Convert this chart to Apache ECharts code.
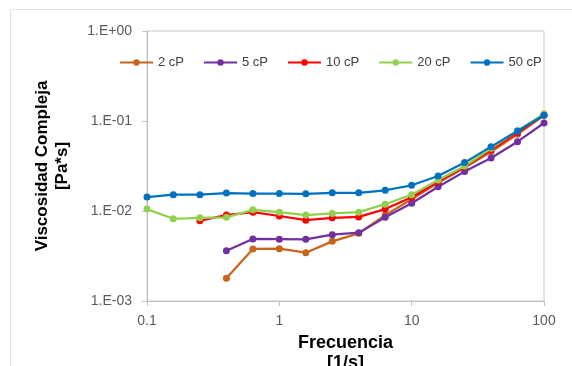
<!DOCTYPE html>
<html>
<head>
<meta charset="utf-8">
<script src="https://cdn.jsdelivr.net/npm/echarts@6/dist/echarts.min.js"></script>
<style>html,body{margin:0;padding:0;background:#fff;}#c{width:572px;height:366px;}</style>
</head>
<body>
<div id="c"></div>
<script>
const freq = [0.1, 0.158, 0.251, 0.398, 0.631, 1, 1.585, 2.512, 3.981, 6.31, 10, 15.85, 25.12, 39.81, 63.1, 100];
const seriesNames = ['2 cP', '5 cP', '10 cP', '20 cP', '50 cP'];
const cp2  = [null, null, null, 0.00179, 0.00379, 0.00381, 0.00344, 0.0046, 0.00565, 0.0090, 0.0135, 0.0206, 0.0303, 0.0456, 0.0711, 0.1156];
const cp5  = [null, null, null, 0.00362, 0.00489, 0.00486, 0.00484, 0.00546, 0.00574, 0.0085, 0.0122, 0.0186, 0.0274, 0.0388, 0.0589, 0.0951];
const cp10 = [null, null, 0.0078, 0.0090, 0.0097, 0.0088, 0.0079, 0.0084, 0.0086, 0.0105, 0.0142, 0.0212, 0.0311, 0.0476, 0.0742, 0.1166];
const cp20 = [0.0105, 0.0082, 0.0084, 0.0085, 0.0103, 0.0097, 0.0090, 0.0094, 0.0097, 0.0119, 0.0152, 0.0221, 0.0316, 0.0497, 0.078, 0.1206];
const cp50 = [0.0143, 0.0152, 0.0152, 0.0158, 0.0156, 0.0156, 0.0155, 0.0159, 0.0159, 0.0170, 0.0193, 0.0245, 0.0345, 0.0519, 0.0774, 0.1156];
const colors = ['#C8641E', '#7030A0', '#FF0000', '#92D050', '#0070C0'];

const allValues = [cp2, cp5, cp10, cp20, cp50];

function pairs(vals) {
  const out = [];
  for (let i = 0; i < freq.length; i++) if (vals[i] != null) out.push([freq[i], vals[i]]);
  return out;
}

const chart = echarts.init(document.getElementById('c'), null, {renderer: 'canvas'});
const font = 'Liberation Sans, Arial, sans-serif';
chart.setOption({
  animation: false,
  backgroundColor: '#ffffff',
  graphic: [{
    type: 'rect', silent: true, z: -1,
    shape: {x: 10.5, y: 9.5, width: 600, height: 400},
    style: {fill: 'none', stroke: '#E3E3E3', lineWidth: 1}
  }],
  grid: {left: 147, right: 28, top: 31, bottom: 65, show: true, borderColor: '#C8C8C8', borderWidth: 1,
         backgroundColor: 'transparent', containLabel: false, outerBoundsMode: 'none'},
  legend: {
    data: seriesNames,
    left: 119, top: 56, padding: 0,
    itemWidth: 33, itemHeight: 8, itemGap: 19,
    textStyle: {fontFamily: font, fontSize: 13, color: '#404040'}
  },
  xAxis: {
    type: 'log', logBase: 10, min: 0.1, max: 100,
    name: 'Frecuencia\n[1/s]', nameLocation: 'middle', nameGap: 27,
    nameTextStyle: {fontFamily: font, fontSize: 18, fontWeight: 'bold', color: '#000', lineHeight: 20},
    axisLine: {show: true, lineStyle: {color: '#BFBFBF', width: 1}},
    axisTick: {show: true, inside: false, length: 5, lineStyle: {color: '#BFBFBF'}},
    minorTick: {show: false},
    splitLine: {show: false},
    axisLabel: {
      fontFamily: font, fontSize: 14, color: '#595959', margin: 13,
      formatter: v => String(Number(v.toPrecision(6)))
    }
  },
  yAxis: {
    type: 'log', logBase: 10, min: 0.001, max: 1,
    name: 'Viscosidad Compleja\n[Pa*s]', nameLocation: 'middle', nameGap: 75, nameRotate: 90,
    nameTextStyle: {fontFamily: font, fontSize: 17, fontWeight: 'bold', color: '#000', lineHeight: 20},
    axisLine: {show: true, lineStyle: {color: '#BFBFBF', width: 1}},
    axisTick: {show: true, inside: false, length: 5, lineStyle: {color: '#BFBFBF'}},
    splitLine: {show: false},
    axisLabel: {
      fontFamily: font, fontSize: 14, color: '#595959', margin: 15,
      formatter: v => {
        const e = Math.round(Math.log10(v));
        const a = Math.abs(e);
        return '1.E' + (e >= 0 ? '+' : '-') + (a < 10 ? '0' + a : a);
      }
    }
  },
  series: seriesNames.map((n, i) => ({
    name: n, type: 'line', data: pairs(allValues[i]),
    symbol: 'circle', symbolSize: 7,
    lineStyle: {width: 2.25, color: colors[i]},
    itemStyle: {color: colors[i]},
    z: 2 + i
  }))
});
</script>
</body>
</html>
